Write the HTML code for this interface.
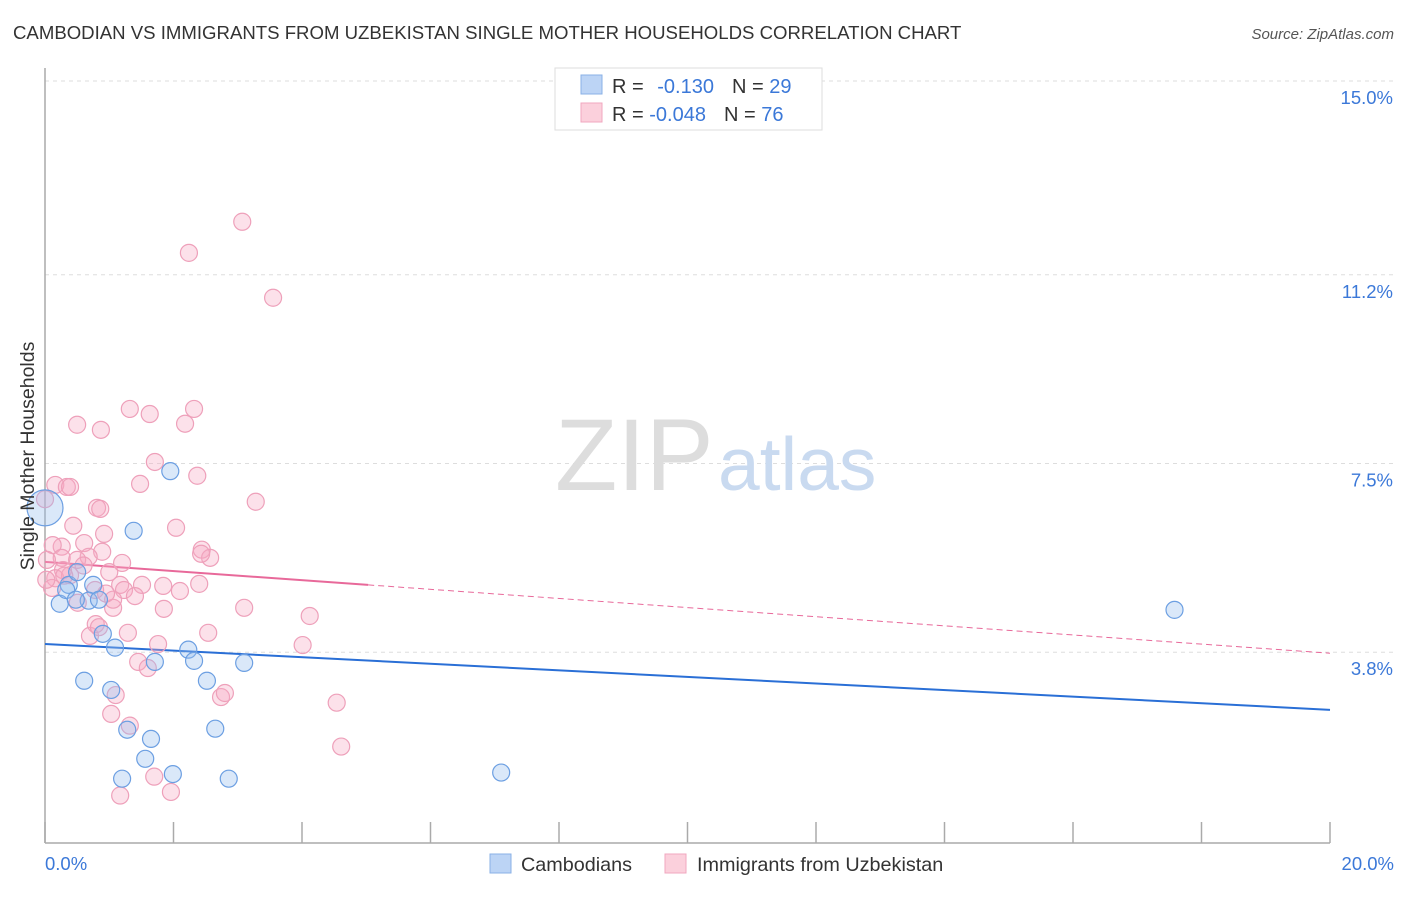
<!DOCTYPE html>
<html><head><meta charset="utf-8"><style>
body{margin:0;background:#fff;font-family:"Liberation Sans",sans-serif;}
svg text{font-family:"Liberation Sans",sans-serif;}
</style></head><body>
<svg id="chart" width="1406" height="892" viewBox="0 0 1406 892" xmlns="http://www.w3.org/2000/svg">
<text x="13" y="39" font-size="18.6" fill="#333">CAMBODIAN VS IMMIGRANTS FROM UZBEKISTAN SINGLE MOTHER HOUSEHOLDS CORRELATION CHART</text>
<text x="1394" y="39" font-size="15" fill="#555" text-anchor="end" font-style="italic">Source: ZipAtlas.com</text>
<g id="grid"></g>
<g><text x="555" y="490" font-size="102" fill="#ddd" font-family="Liberation Serif">ZIP</text><text x="718" y="490" font-size="75" fill="#c9daf0">atlas</text></g>
<line x1="45" y1="68" x2="45" y2="843" stroke="#aaa" stroke-width="1.5"/>
<line x1="45" y1="843" x2="1330" y2="843" stroke="#aaa" stroke-width="1.5"/>
<g id="ticks"></g>
<g id="lines"></g>
<g id="pts"></g>
<text transform="translate(34,456) rotate(-90)" font-size="19.5" fill="#333" text-anchor="middle">Single Mother Households</text>
<text x="45" y="870" font-size="18.5" fill="#3b78d8">0.0%</text>
<text x="1394" y="870" font-size="18.5" fill="#3b78d8" text-anchor="end">20.0%</text>
<g>
<rect x="555" y="68" width="267" height="62" fill="#fff" stroke="#ddd"/>
<rect x="581" y="75" width="21" height="19" fill="#bcd4f5" stroke="#8ab0e6"/>
<rect x="581" y="103" width="21" height="19" fill="#fbd0dc" stroke="#f0a7bf"/>
<text x="612" y="93" font-size="20" fill="#333">R = <tspan fill="#3b78d8" dx="8">-0.130</tspan><tspan dx="18">N = </tspan><tspan fill="#3b78d8">29</tspan></text>
<text x="612" y="121" font-size="20" fill="#333">R = <tspan fill="#3b78d8">-0.048</tspan><tspan dx="18">N = </tspan><tspan fill="#3b78d8">76</tspan></text>
</g>
<g>
<rect x="490" y="854" width="21" height="19" fill="#bcd4f5" stroke="#8ab0e6"/>
<text x="521" y="871" font-size="19.8" fill="#333">Cambodians</text>
<rect x="665" y="854" width="21" height="19" fill="#fbd0dc" stroke="#f0a7bf"/>
<text x="697" y="871" font-size="19.8" fill="#333">Immigrants from Uzbekistan</text>
</g>
</svg>
<script>
const yTicks=[15.0,11.2,7.5,3.8];
const yTickLabels=["15.0%","11.2%","7.5%","3.8%"];
const xTicks=[0,2,4,6,8,10,12,14,16,18,20];
const blueX=[0,0.23,0.37,0.5,0.75,0.68,0.84,0.61,0.9,1.03,1.09,1.28,1.2,1.38,1.56,1.65,1.71,1.99,1.95,2.23,2.32,2.52,2.65,2.86,3.1,7.1,17.58,0.33,0.48];
const blueY=[6.63,4.75,5.12,5.37,5.12,4.81,4.83,3.24,4.16,3.06,3.89,2.28,1.32,6.18,1.71,2.1,3.61,1.41,7.35,3.85,3.63,3.24,2.3,1.32,3.59,1.44,4.63,5.02,4.83];
const pinkX=[3.07,2.24,3.55,1.32,1.63,2.32,0.5,0.87,2.18,1.71,2.37,1.48,0.16,0.34,0.39,3.28,0.81,0.86,0,0.44,2.04,0.92,0.61,0.26,0.12,0.89,0.68,0.26,2.44,2.57,2.43,1.2,0.5,0.28,1.0,0.16,0.39,1.17,1.51,1.84,2.4,0.11,0.78,1.23,1.06,0.51,1.06,1.85,3.1,4.12,0.7,0.79,0.84,1.29,1.76,2.54,4.01,1.45,1.6,1.1,2.74,2.8,1.03,1.32,4.54,4.61,1.7,1.17,1.96,0.02,0.03,0.6,1.4,0.3,2.1,0.95];
const pinkY=[12.24,11.63,10.75,8.57,8.47,8.57,8.26,8.16,8.28,7.53,7.26,7.1,7.08,7.04,7.04,6.75,6.63,6.61,6.8,6.28,6.24,6.12,5.94,5.87,5.9,5.77,5.67,5.65,5.81,5.65,5.73,5.55,5.61,5.41,5.37,5.25,5.31,5.12,5.12,5.1,5.14,5.06,5.02,5.02,4.67,4.77,4.83,4.65,4.67,4.51,4.12,4.35,4.29,4.18,3.96,4.18,3.94,3.61,3.49,2.96,2.92,3.0,2.59,2.36,2.81,1.95,1.36,0.99,1.06,5.22,5.61,5.5,4.9,5.3,5.0,4.95];
const blueTrend=[3.96,2.67];
const pinkTrend=[5.57,3.78];
const pinkSolidEnd=5.03;
const NS="http://www.w3.org/2000/svg";
const X0=45,X1=1330,YTOP=81,PXPER=51;
const sx=v=>X0+(v/20)*(X1-X0);
const sy=v=>YTOP+(15-v)*PXPER;
function mk(tag,attrs,parent){const e=document.createElementNS(NS,tag);for(const k in attrs)e.setAttribute(k,attrs[k]);parent.appendChild(e);return e;}
const grid=document.getElementById('grid');
yTicks.forEach((t,i)=>{
  const l=mk('line',{x1:X0,x2:1394,y1:sy(t),y2:sy(t),stroke:'#ddd','stroke-dasharray':'4,4'},grid);
  
  
  const tx=mk('text',{x:1393,y:sy(t)+23,'font-size':18.5,fill:'#3b78d8','text-anchor':'end'},grid);
  
  
  tx.textContent=yTickLabels[i];
});
const ticks=document.getElementById('ticks');
xTicks.forEach(t=>{
  const l=mk('line',{x1:sx(t),x2:sx(t),y1:822,y2:843,stroke:'#aaa','stroke-width':1.5},ticks);
  
  
});
const lines=document.getElementById('lines');
const bl=mk('line',{x1:sx(0),y1:sy(blueTrend[0]),x2:sx(20),y2:sy(blueTrend[1]),stroke:'#2a6fd6','stroke-width':2},lines);


const pAt=x=>pinkTrend[0]+(pinkTrend[1]-pinkTrend[0])*x/20;
const ps=mk('line',{x1:sx(0),y1:sy(pinkTrend[0]),x2:sx(pinkSolidEnd),y2:sy(pAt(pinkSolidEnd)),stroke:'#e8699a','stroke-width':2},lines);


const pd=mk('line',{x1:sx(pinkSolidEnd),y1:sy(pAt(pinkSolidEnd)),x2:sx(20),y2:sy(pinkTrend[1]),stroke:'#e8699a','stroke-width':1,'stroke-dasharray':'6,4'},lines);


const pts=document.getElementById('pts');
pinkX.forEach((x,i)=>{
  const c=mk('circle',{cx:sx(x),cy:sy(pinkY[i]),r:8.5,fill:'rgba(246,168,195,0.35)',stroke:'#eea0ba','stroke-width':1.2},pts);
  
  
});
blueX.forEach((x,i)=>{
  const c=mk('circle',{cx:sx(x),cy:sy(blueY[i]),r:i===0?18:8.5,fill:'rgba(150,188,238,0.35)',stroke:'#6c9fe2','stroke-width':1.2},pts);
  
  
});
</script>
</body></html>
